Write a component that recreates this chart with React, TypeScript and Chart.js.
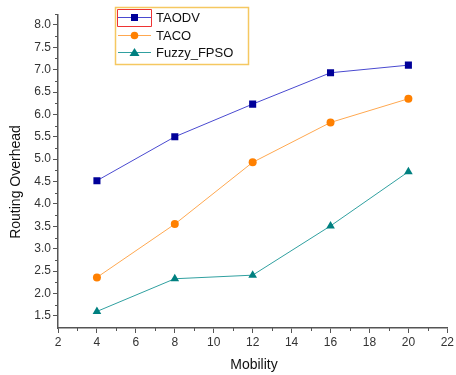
import React, { useEffect, useRef } from "react";
import { Chart, registerables } from "chart.js";
Chart.register(...registerables);

const mobility = [4, 8, 12, 16, 20];
const taodv = [4.52, 5.5, 6.23, 6.93, 7.1];
const taco = [2.36, 3.55, 4.93, 5.82, 6.35];
const fuzzy = [1.6, 2.33, 2.41, 3.51, 4.72];
const seriesNames = ["TAODV", "TACO", "Fuzzy_FPSO"];
const xTicks = [2, 4, 6, 8, 10, 12, 14, 16, 18, 20, 22];
const yTicks = [1.5, 2.0, 2.5, 3.0, 3.5, 4.0, 4.5, 5.0, 5.5, 6.0, 6.5, 7.0, 7.5, 8.0];
const xTitle = "Mobility";
const yTitle = "Routing Overhead";

const FONT = "'Liberation Sans', Arial, sans-serif";

const decor = {
  id: "decor",
  afterDraw(chart: any) {
    const ctx = chart.ctx;
    const xs = chart.scales.x;
    const ys = chart.scales.y;
    const area = chart.chartArea;
    ctx.save();
    // minor ticks
    ctx.strokeStyle = "#555";
    ctx.lineWidth = 1;
    for (let i = 0; i < xTicks.length - 1; i++) {
      const v = (xTicks[i] + xTicks[i + 1]) / 2;
      const px = Math.round(xs.getPixelForValue(v)) + 0.5;
      ctx.beginPath();
      ctx.moveTo(px, area.bottom);
      ctx.lineTo(px, area.bottom + 3);
      ctx.stroke();
    }
    for (let i = 0; i < yTicks.length - 1; i++) {
      const v = (yTicks[i] + yTicks[i + 1]) / 2;
      const py = Math.round(ys.getPixelForValue(v)) + 0.5;
      ctx.beginPath();
      ctx.moveTo(area.left, py);
      ctx.lineTo(area.left - 3, py);
      ctx.stroke();
    }
    {
      const py = Math.round(ys.getPixelForValue(8.25)) + 0.5;
      ctx.beginPath();
      ctx.moveTo(area.left, py);
      ctx.lineTo(area.left - 3, py);
      ctx.stroke();
    }
    // titles
    ctx.fillStyle = "#111";
    ctx.font = `14px ${FONT}`;
    ctx.textAlign = "center";
    ctx.textBaseline = "middle";
    ctx.fillText(xTitle, 254, 365);
    ctx.translate(16, 182);
    ctx.rotate(-Math.PI / 2);
    ctx.fillText(yTitle, 0, 0);
    ctx.restore();

    // legend
    ctx.save();
    const lx = 115, ly = 7, lw = 133, lh = 57;
    ctx.strokeStyle = "#f5c861";
    ctx.lineWidth = 1.5;
    ctx.strokeRect(lx + 0.5, ly + 0.5, lw, lh);
    const rows = [17, 35, 52];
    const dsets = chart.data.datasets;
    rows.forEach((ry: number, i: number) => {
      const ds = dsets[i];
      ctx.strokeStyle = ds.borderColor;
      ctx.lineWidth = 1;
      ctx.beginPath();
      ctx.moveTo(118, ry + 0.5);
      ctx.lineTo(151, ry + 0.5);
      ctx.stroke();
      ctx.fillStyle = ds.pointBackgroundColor;
      const cx = 134.5;
      if (i === 0) {
        ctx.fillRect(cx - 3.5, ry - 3, 7, 7);
      } else if (i === 1) {
        ctx.beginPath();
        ctx.arc(cx, ry + 0.5, 3.8, 0, Math.PI * 2);
        ctx.fill();
      } else {
        ctx.beginPath();
        ctx.moveTo(cx, ry - 4);
        ctx.lineTo(cx + 5, ry + 4);
        ctx.lineTo(cx - 5, ry + 4);
        ctx.closePath();
        ctx.fill();
      }
      ctx.fillStyle = "#111";
      ctx.font = `13px ${FONT}`;
      ctx.textAlign = "left";
      ctx.textBaseline = "middle";
      ctx.fillText(seriesNames[i], 156, ry + 1);
    });
    ctx.beginPath();
    ctx.strokeStyle = "#ee3333";
    ctx.lineWidth = 1;
    ctx.rect(117.5, 9.5, 34, 17);
    ctx.stroke();
    ctx.restore();
  },
};

export default function App() {
  const ref = useRef<HTMLCanvasElement>(null);
  useEffect(() => {
    document.body.style.margin = "0";
    const toPts = (arr: number[]) => arr.map((v, i) => ({ x: mobility[i], y: v }));
    const chart = new Chart(ref.current!, {
      type: "line",
      data: {
        datasets: [
          {
            label: seriesNames[0],
            data: toPts(taodv),
            borderColor: "#4a4ad0",
            borderWidth: 1,
            pointStyle: "rect",
            pointRadius: 5,
            pointBackgroundColor: "#000099",
            pointBorderColor: "#000099",
            pointBorderWidth: 0,
          },
          {
            label: seriesNames[1],
            data: toPts(taco),
            borderColor: "#ffa850",
            borderWidth: 1,
            pointStyle: "circle",
            pointRadius: 4,
            pointBackgroundColor: "#ff8000",
            pointBorderColor: "#ff8000",
            pointBorderWidth: 0,
          },
          {
            label: seriesNames[2],
            data: toPts(fuzzy),
            borderColor: "#30a0a0",
            borderWidth: 1,
            pointStyle: "triangle",
            pointRadius: 5,
            pointBackgroundColor: "#008080",
            pointBorderColor: "#008080",
            pointBorderWidth: 0,
          },
        ],
      },
      options: {
        animation: false,
        responsive: false,
        layout: { padding: { top: 15, right: 6, left: 0, bottom: 0 } },
        plugins: { legend: { display: false }, tooltip: { enabled: false } },
        scales: {
          x: {
            type: "linear",
            min: 2,
            max: 22,
            afterBuildTicks: (s: any) => {
              s.ticks = xTicks.map((v) => ({ value: v }));
            },
            afterFit: (s: any) => {
              s.height = 47;
            },
            grid: { drawOnChartArea: false, drawTicks: true, tickLength: 5, color: "#555" },
            border: { color: "#555", width: 1.5 },
            ticks: {
              color: "#333",
              font: { family: FONT, size: 12 },
              padding: 2,
              maxRotation: 0,
              autoSkip: false,
            },
          },
          y: {
            type: "linear",
            min: 1.23,
            max: 8.22,
            afterBuildTicks: (s: any) => {
              s.ticks = yTicks.map((v) => ({ value: v }));
            },
            afterFit: (s: any) => {
              s.width = 58;
            },
            grid: { drawOnChartArea: false, drawTicks: true, tickLength: 5, color: "#555" },
            border: { color: "#555", width: 1.5 },
            ticks: {
              color: "#333",
              font: { family: FONT, size: 12 },
              padding: 2,
              autoSkip: false,
              callback: (v: any) => Number(v).toFixed(1),
            },
          },
        },
      },
      plugins: [decor],
    });
    return () => chart.destroy();
  }, []);
  return (
    <div style={{ position: "absolute", left: 0, top: 0, width: 456, height: 375 }}>
      <canvas ref={ref} width={456} height={375} style={{ width: 456, height: 375 }} />
    </div>
  );
}
